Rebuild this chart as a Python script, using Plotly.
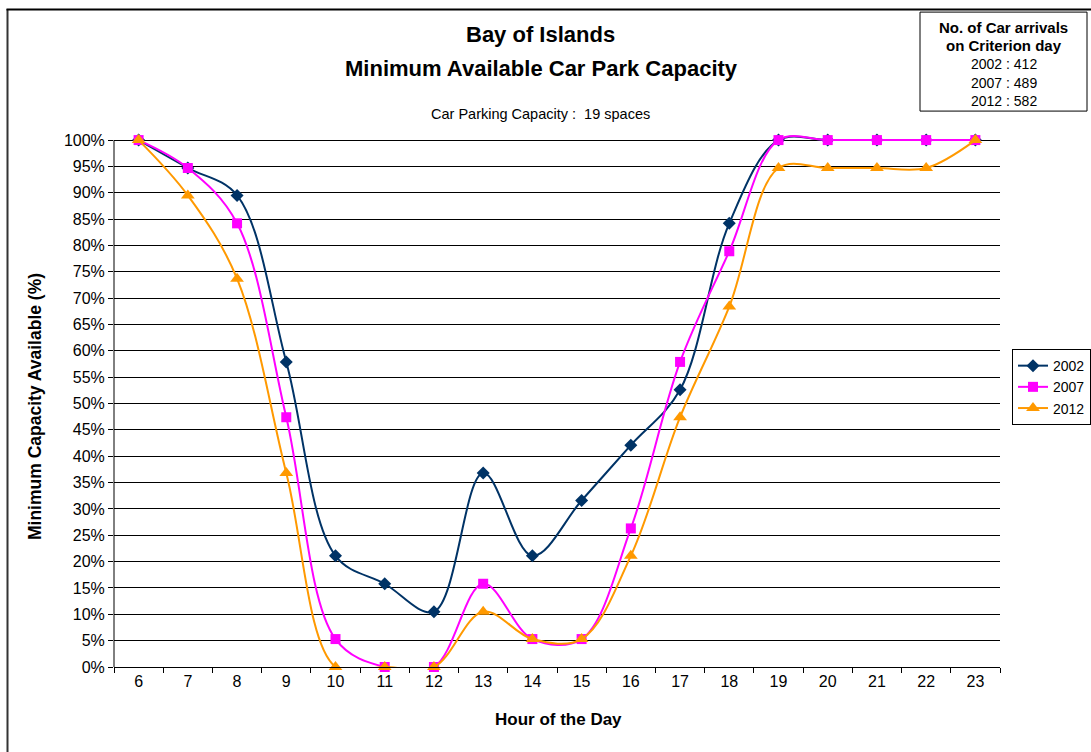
import plotly.graph_objects as go

# Hour of the day (categories on the x axis)
hours = ["6", "7", "8", "9", "10", "11", "12", "13", "14", "15",
         "16", "17", "18", "19", "20", "21", "22", "23"]

# Minimum available capacity (%) of the 19-space car park
cap_2002 = [100, 94.7, 89.5, 57.9, 21.1, 15.8, 10.5, 36.8, 21.1, 31.6,
            42.1, 52.6, 84.2, 100, 100, 100, 100, 100]
cap_2007 = [100, 94.7, 84.2, 47.4, 5.3, 0, 0, 15.8, 5.3, 5.3,
            26.3, 57.9, 78.9, 100, 100, 100, 100, 100]
cap_2012 = [100, 89.5, 73.7, 36.8, 0, 0, 0, 10.5, 5.3, 5.3,
            21.1, 47.4, 68.4, 94.7, 94.7, 94.7, 94.7, 100]

series_names = ["2002", "2007", "2012"]
arrival_lines = ["2002 : 412", "2007 : 489", "2012 : 582"]
y_ticks = list(range(0, 101, 5))

FONT = "Arial, Liberation Sans, sans-serif"
W, H = 1091, 752
Y_TOP = 1.04                      # headroom so lines at 100% are not clipped
X0, X1, Y100, Y0 = 114, 1000, 140, 667
PH = (Y0 - Y100) * Y_TOP
L, R, B = X0, W - X1, H - Y0
T = Y0 - PH
PW = X1 - X0


def px_x(x):
    return (x - L) / PW


def px_y(y):
    return (Y0 - y) / PH


fig = go.Figure()
styles = [
    (cap_2002, "#003366", "diamond", 10),
    (cap_2007, "#FF00FF", "square", 10),
    (cap_2012, "#FF9900", "triangle-up", 12),
]
for name, (vals, color, symbol, size) in zip(series_names, styles):
    fig.add_trace(go.Scatter(
        x=hours, y=[v / 100 for v in vals], name=name,
        mode="lines+markers",
        line=dict(color=color, width=2, shape="spline", smoothing=1.0),
        marker=dict(symbol=symbol, size=size, color=color),
        cliponaxis=False,
    ))

fig.update_layout(
    width=W, height=H,
    margin=dict(l=L, r=R, t=T, b=B, autoexpand=False),
    paper_bgcolor="white", plot_bgcolor="white",
    font=dict(family=FONT, color="black", size=16),
    showlegend=True,
    legend=dict(
        x=px_x(1012), y=px_y(349), xanchor="left", yanchor="top",
        bordercolor="black", borderwidth=1, bgcolor="white",
        font=dict(size=14, family=FONT), tracegroupgap=0,
        itemwidth=30,
    ),
)

fig.update_xaxes(
    type="category", tickson="boundaries", ticks="outside", ticklen=5,
    tickcolor="black", showline=True, linecolor="black", linewidth=1,
    showgrid=False, tickfont=dict(size=16), range=[-0.5, 17.5],
)
fig.update_yaxes(
    range=[0, Y_TOP], tickvals=[t / 100 for t in y_ticks],
    ticktext=[f"{t}%" for t in y_ticks],
    ticks="outside", ticklen=5, tickcolor="black",
    showline=False,
    showgrid=True, gridcolor="black", gridwidth=1, zeroline=False,
    tickfont=dict(size=16),
)

# Value axis line from 0% to 100%
fig.add_shape(type="line", xref="paper", yref="y", x0=0, x1=0, y0=0, y1=1,
              line=dict(color="black", width=1), layer="below")

ann = [
    dict(text="<b>Bay of Islands</b>", x=px_x(540), y=px_y(34), size=22),
    dict(text="<b>Minimum Available Car Park Capacity</b>", x=px_x(541), y=px_y(68), size=22),
    dict(text="Car Parking Capacity :  19 spaces", x=px_x(540), y=px_y(114), size=14.5),
    dict(text="<b>Hour of the Day</b>", x=px_x(558), y=px_y(720), size=17),
    dict(text="<b>No. of Car arrivals</b>", x=px_x(1004), y=px_y(27), size=15),
    dict(text="<b>on Criterion day</b>", x=px_x(1004), y=px_y(45), size=15),
]
for i, line in enumerate(arrival_lines):
    ann.append(dict(text=line, x=px_x(1004), y=px_y(64 + 18.5 * i), size=14))
for a in ann:
    fig.add_annotation(
        text=a["text"], x=a["x"], y=a["y"], xref="paper", yref="paper",
        xanchor="center", yanchor="middle", showarrow=False,
        font=dict(size=a["size"], family=FONT, color="black"),
    )
fig.add_annotation(
    text="<b>Minimum Capacity Available (%)</b>", textangle=-90,
    x=px_x(35), y=px_y(407), xref="paper", yref="paper",
    xanchor="center", yanchor="middle", showarrow=False,
    font=dict(size=17.5, family=FONT, color="black"),
)

# Arrivals box and outer chart frame
fig.add_shape(type="rect", xref="paper", yref="paper",
              x0=px_x(920), x1=px_x(1087), y0=px_y(111), y1=px_y(12),
              line=dict(color="black", width=1), fillcolor="rgba(0,0,0,0)")
fig.add_shape(type="line", xref="paper", yref="paper",
              x0=px_x(7.5), x1=px_x(7.5), y0=px_y(9), y1=px_y(760),
              line=dict(color="#333333", width=2))
fig.add_shape(type="line", xref="paper", yref="paper",
              x0=px_x(6.5), x1=px_x(1100), y0=px_y(9.5), y1=px_y(9.5),
              line=dict(color="black", width=2))

fig.write_html("out.html")
